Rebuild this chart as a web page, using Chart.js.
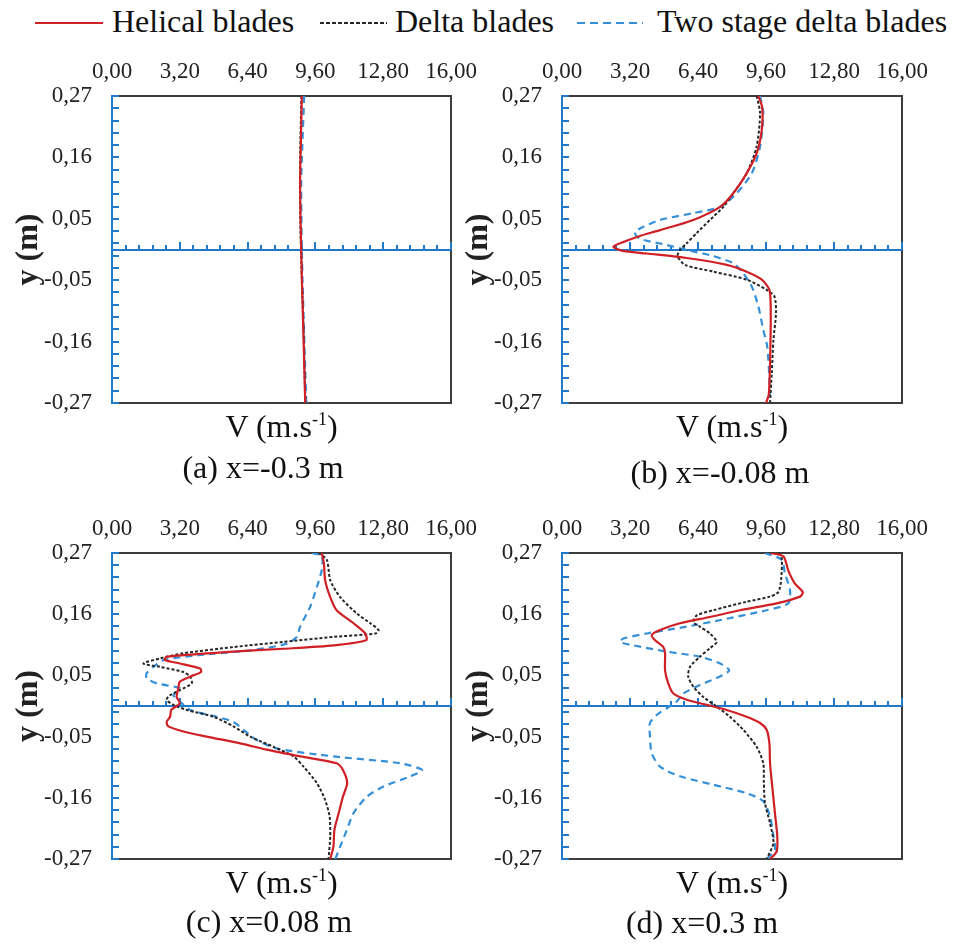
<!DOCTYPE html>
<html>
<head>
<meta charset="utf-8">
<script src="https://cdn.jsdelivr.net/npm/chart.js@4.4.1/dist/chart.umd.min.js"></script>
<style>
  body { margin: 0; width: 955px; height: 949px; background: #fff; position: relative; overflow: hidden;
         font-family: 'Liberation Serif', serif; color: #111; }
  .panel { position: absolute; }
  .txt { position: absolute; white-space: nowrap; font-size: 32px; line-height: 32px; text-align: center; }
  .sup { font-size: 18px; position: relative; top: -12px; }
  .key { position: absolute; height: 2px; }
</style>
</head>
<body>
<div id="legend"></div>
<div id="figure"></div>
<script>
// series and axis labels
const seriesNames = ['Helical blades', 'Delta blades', 'Two stage delta blades'];
const vTicks = [0, 3.2, 6.4, 9.6, 12.8, 16];
const yTicks = [0.27, 0.162, 0.054, -0.054, -0.162, -0.27];
const captions = ['(a) x=-0.3 m', '(b) x=-0.08 m', '(c) x=0.08 m', '(d) x=0.3 m'];

// (a) x = -0.3 m, all three profiles sampled at the same heights
const yA = [0.27, 0.2, 0.122, 0.05, 0, -0.05, -0.141, -0.2, -0.27];
const helicalA = [8.96, 8.92, 8.88, 8.9, 8.93, 8.96, 9.03, 9.07, 9.12];
const deltaA = [8.94, 8.9, 8.87, 8.89, 8.92, 8.96, 9.04, 9.08, 9.13];
const twoStageA = [9.07, 9.0, 8.93, 8.94, 8.96, 8.99, 9.06, 9.11, 9.17];

// (b) x = -0.08 m
const helicalB_y = [0.27, 0.25, 0.21, 0.169, 0.134, 0.099, 0.075, 0.052, 0.034, 0.023, 0.014, 0.005, -0.002, -0.007, -0.015, -0.027, -0.039, -0.053, -0.071, -0.1, -0.141, -0.2, -0.255, -0.27];
const helicalB_v = [9.24, 9.42, 9.4, 9.16, 8.69, 8.06, 7.44, 6.18, 4.61, 3.6, 2.95, 2.42, 2.8, 3.98, 5.87, 7.75, 8.69, 9.4, 9.76, 9.82, 9.82, 9.79, 9.73, 9.6];
const deltaB_y = [0.27, 0.24, 0.181, 0.134, 0.099, 0.075, 0.052, 0.029, 0.011, -0.001, -0.012, -0.027, -0.039, -0.053, -0.071, -0.083, -0.112, -0.159, -0.218, -0.27];
const deltaB_v = [9.16, 9.32, 9.16, 8.69, 8.06, 7.6, 6.96, 6.34, 5.87, 5.55, 5.44, 5.79, 7.12, 8.69, 9.63, 10.0, 10.07, 9.95, 9.87, 9.79];
const twoStageB_y = [0.27, 0.24, 0.181, 0.134, 0.099, 0.075, 0.064, 0.052, 0.04, 0.031, 0.023, 0.017, 0.008, -0.001, -0.01, -0.024, -0.042, -0.065, -0.1, -0.141, -0.171, -0.229, -0.27];
const twoStageB_v = [9.32, 9.47, 9.32, 8.93, 8.22, 7.44, 6.18, 4.61, 3.83, 3.44, 3.51, 3.83, 4.93, 5.87, 6.96, 8.06, 8.53, 8.93, 9.24, 9.47, 9.66, 9.76, 9.79];

// (c) x = 0.08 m
const helicalC_y = [0.27, 0.252, 0.222, 0.192, 0.169, 0.146, 0.128, 0.116, 0.107, 0.101, 0.096, 0.087, 0.081, 0.075, 0.066, 0.06, 0.052, 0.043, 0.031, 0.016, 0.005, -0.007, -0.019, -0.028, -0.036, -0.045, -0.054, -0.066, -0.077, -0.089, -0.101, -0.113, -0.136, -0.16, -0.189, -0.218, -0.248, -0.27];
const helicalC_v = [9.9, 10.0, 10.06, 10.3, 10.6, 11.4, 11.95, 12.0, 10.46, 8.1, 5.7, 2.58, 2.5, 3.2, 4.16, 4.2, 3.7, 3.2, 3.13, 3.05, 3.2, 2.8, 2.74, 2.58, 2.66, 3.37, 4.47, 6.05, 7.3, 8.9, 10.6, 10.9, 11.1, 10.9, 10.7, 10.5, 10.45, 10.3];
const deltaC_y = [0.27, 0.258, 0.222, 0.192, 0.163, 0.146, 0.134, 0.128, 0.122, 0.113, 0.104, 0.093, 0.084, 0.075, 0.069, 0.06, 0.052, 0.04, 0.028, 0.019, 0.011, 0.002, -0.007, -0.019, -0.036, -0.054, -0.072, -0.089, -0.107, -0.136, -0.166, -0.195, -0.23, -0.27];
const deltaC_v = [9.75, 10.14, 10.3, 10.77, 11.56, 12.19, 12.58, 12.43, 10.46, 8.09, 5.73, 3.37, 2.27, 1.48, 2.27, 3.37, 3.69, 3.76, 3.21, 2.74, 2.58, 2.9, 3.53, 4.79, 5.73, 6.52, 7.62, 8.57, 9.04, 9.67, 10.06, 10.27, 10.3, 10.22];
const twoStageC_y = [0.27, 0.265, 0.24, 0.21, 0.175, 0.14, 0.122, 0.11, 0.099, 0.09, 0.081, 0.069, 0.058, 0.049, 0.04, 0.031, 0.019, 0.008, -0.007, -0.019, -0.028, -0.042, -0.06, -0.075, -0.089, -0.101, -0.113, -0.124, -0.142, -0.16, -0.189, -0.218, -0.248, -0.27];
const twoStageC_v = [9.43, 9.9, 9.9, 9.67, 9.35, 8.88, 8.72, 8.25, 6.68, 4.16, 2.43, 1.95, 1.64, 1.64, 2.11, 3.21, 2.9, 3.2, 3.69, 4.94, 5.73, 6.2, 6.83, 7.78, 10.46, 13.6, 14.63, 14.08, 12.82, 12.03, 11.4, 11.09, 10.77, 10.54];

// (d) x = 0.3 m
const helicalD_y = [0.27, 0.264, 0.239, 0.216, 0.201, 0.193, 0.181, 0.169, 0.157, 0.146, 0.134, 0.125, 0.116, 0.104, 0.093, 0.063, 0.04, 0.022, 0.011, 0.002, -0.007, -0.019, -0.03, -0.042, -0.066, -0.101, -0.148, -0.189, -0.23, -0.257, -0.27];
const helicalD_v = [9.79, 10.42, 10.65, 10.96, 11.33, 11.2, 10.1, 8.38, 6.96, 5.55, 4.61, 4.22, 4.38, 4.77, 4.85, 4.85, 5.0, 5.24, 5.87, 6.81, 7.75, 8.69, 9.32, 9.63, 9.76, 9.79, 9.91, 10.02, 10.13, 10.1, 9.79];
const deltaD_y = [0.27, 0.261, 0.222, 0.201, 0.193, 0.184, 0.169, 0.16, 0.148, 0.14, 0.128, 0.113, 0.102, 0.087, 0.069, 0.052, 0.034, 0.016, -0.001, -0.019, -0.042, -0.072, -0.101, -0.136, -0.171, -0.207, -0.242, -0.27];
const deltaD_v = [10.18, 10.34, 10.31, 10.18, 9.79, 8.69, 7.12, 6.34, 6.18, 6.49, 6.96, 7.28, 6.96, 6.49, 6.02, 5.94, 6.18, 6.65, 7.28, 7.9, 8.53, 9.16, 9.47, 9.5, 9.55, 9.79, 9.95, 9.63];
const twoStageD_y = [0.27, 0.258, 0.234, 0.204, 0.181, 0.169, 0.154, 0.14, 0.128, 0.119, 0.113, 0.107, 0.096, 0.087, 0.075, 0.063, 0.052, 0.037, 0.022, 0.008, -0.004, -0.016, -0.03, -0.054, -0.083, -0.107, -0.124, -0.139, -0.154, -0.168, -0.195, -0.23, -0.254, -0.27];
const twoStageD_v = [9.55, 10.34, 10.49, 10.73, 10.65, 9.63, 7.75, 5.87, 3.98, 2.89, 2.73, 3.36, 4.93, 6.49, 7.44, 7.87, 7.44, 6.49, 5.71, 5.4, 4.93, 4.45, 4.14, 4.14, 4.22, 4.61, 5.55, 7.12, 8.69, 9.47, 9.79, 9.95, 10.02, 9.63];

const panelSeries = [
    [[helicalA, yA], [deltaA, yA], [twoStageA, yA]],
    [[helicalB_v, helicalB_y], [deltaB_v, deltaB_y], [twoStageB_v, twoStageB_y]],
    [[helicalC_v, helicalC_y], [deltaC_v, deltaC_y], [twoStageC_v, twoStageC_y]],
    [[helicalD_v, helicalD_y], [deltaD_v, deltaD_y], [twoStageD_v, twoStageD_y]]
];

// styles and placement
const fontFamily = "'Liberation Serif'";
const textColor = '#222';
const axisBlue = '#2179c9';
const frameColor = '#3c3c3c';
const seriesStyles = [
    { color: '#cf2026', dash: [], width: 2.2 },
    { color: '#262626', dash: [3, 2], width: 2 },
    { color: '#3590d8', dash: [7, 5], width: 2.2 }
];
// chart area ends up at canvas width - 38 (right) and canvas height - 34 (bottom)
const panels = [
    { left: 0,   top: 40,  width: 489, height: 397, titleTop: 410, captionX: 263, captionTop: 451 },
    { left: 450, top: 40,  width: 490, height: 397, titleTop: 410, captionX: 720, captionTop: 456 },
    { left: 0,   top: 497, width: 489, height: 396, titleTop: 866, captionX: 269, captionTop: 905 },
    { left: 450, top: 497, width: 490, height: 396, titleTop: 866, captionX: 702, captionTop: 906 }
];
const yAxisWidth = 112;
const xAxisHeight = 56;
const padRight = 38;
const padBottom = 34;

function fmt(value) {
    return Number(value).toFixed(2).replace('.', ',');
}

// Excel-like axes: blue value axis on the left, blue category axis crossing at y = 0
const axisDecor = {
    id: 'axisDecor',
    beforeDatasetsDraw(chart) {
        const { ctx, chartArea: area, scales: { x, y } } = chart;
        const left = Math.round(area.left), right = Math.round(area.right);
        const top = Math.round(area.top), bottom = Math.round(area.bottom);
        ctx.save();
        ctx.lineWidth = 2;
        ctx.strokeStyle = frameColor;
        ctx.strokeRect(left, top, right - left, bottom - top);

        ctx.strokeStyle = axisBlue;
        ctx.beginPath();
        ctx.moveTo(left, top - 1);
        ctx.lineTo(left, bottom + 1);
        const yStep = (yTicks[0] - yTicks[1]) / 5;
        for (let k = 0; k <= 25; k++) {
            const py = Math.round(y.getPixelForValue(yTicks[0] - k * yStep));
            ctx.moveTo(left, py);
            ctx.lineTo(left + 7, py);
        }
        const y0 = Math.round(y.getPixelForValue(0));
        ctx.moveTo(left, y0);
        ctx.lineTo(right, y0);
        const xStep = (vTicks[1] - vTicks[0]) / 5;
        for (let k = 1; k <= 25; k++) {
            const px = Math.round(x.getPixelForValue(k * xStep));
            const len = k % 5 === 0 ? 8 : 5;
            ctx.moveTo(px, y0);
            ctx.lineTo(px, y0 - len);
        }
        ctx.stroke();
        ctx.restore();
    }
};

// legend across the top
const legendEl = document.getElementById('legend');
const legendKeys = [
    { lineLeft: 35, lineWidth: 68, textLeft: 112 },
    { lineLeft: 320, lineWidth: 67, textLeft: 395 },
    { lineLeft: 577, lineWidth: 66, textLeft: 657 }
];
legendKeys.forEach((k, i) => {
    const st = seriesStyles[i];
    const line = document.createElement('div');
    line.className = 'key';
    line.style.left = k.lineLeft + 'px';
    line.style.top = '22px';
    line.style.width = k.lineWidth + 'px';
    if (st.dash.length) {
        const on = st.dash[0] + 1, off = st.dash[0] + 1 + st.dash[1];
        line.style.background = `repeating-linear-gradient(to right, ${st.color} 0 ${on}px, transparent ${on}px ${off}px)`;
    } else {
        line.style.background = st.color;
    }
    legendEl.appendChild(line);
    const label = document.createElement('div');
    label.className = 'txt';
    label.style.left = k.textLeft + 'px';
    label.style.top = '5px';
    label.style.textAlign = 'left';
    label.textContent = seriesNames[i];
    legendEl.appendChild(label);
});

const figure = document.getElementById('figure');
panels.forEach((p, idx) => {
    const wrap = document.createElement('div');
    wrap.className = 'panel';
    wrap.style.left = p.left + 'px';
    wrap.style.top = p.top + 'px';
    const canvas = document.createElement('canvas');
    canvas.width = p.width;
    canvas.height = p.height;
    canvas.style.width = p.width + 'px';
    canvas.style.height = p.height + 'px';
    wrap.appendChild(canvas);
    figure.appendChild(wrap);

    const title = document.createElement('div');
    title.className = 'txt';
    title.style.left = (p.left + yAxisWidth) + 'px';
    title.style.width = (p.width - yAxisWidth - padRight) + 'px';
    title.style.top = p.titleTop + 'px';
    title.innerHTML = 'V (m.s<span class="sup">-1</span>)';
    figure.appendChild(title);

    const cap = document.createElement('div');
    cap.className = 'txt';
    cap.style.left = (p.captionX - 150) + 'px';
    cap.style.width = '300px';
    cap.style.top = p.captionTop + 'px';
    cap.textContent = captions[idx];
    figure.appendChild(cap);

    const datasets = panelSeries[idx].map(([vs, ys], i) => ({
        label: seriesNames[i],
        data: vs.map((v, j) => ({ x: v, y: ys[j] })),
        showLine: true,
        borderColor: seriesStyles[i].color,
        borderWidth: seriesStyles[i].width,
        borderDash: seriesStyles[i].dash,
        pointRadius: 0,
        tension: 0.25,
        order: i
    }));

    const tickFont = { family: fontFamily, size: 23 };
    new Chart(canvas, {
        type: 'scatter',
        data: { datasets: datasets },
        options: {
            responsive: false,
            animation: false,
            devicePixelRatio: 1,
            layout: { padding: { left: 0, top: 0, right: padRight, bottom: padBottom } },
            plugins: { legend: { display: false }, tooltip: { enabled: false } },
            scales: {
                x: {
                    type: 'linear',
                    position: 'top',
                    min: vTicks[0],
                    max: vTicks[vTicks.length - 1],
                    afterBuildTicks: (s) => { s.ticks = vTicks.map(v => ({ value: v })); },
                    afterFit: (s) => { s.height = xAxisHeight; },
                    ticks: { callback: fmt, padding: 10, font: tickFont, color: textColor, autoSkip: false, maxRotation: 0 },
                    grid: { display: false, drawTicks: false },
                    border: { display: false }
                },
                y: {
                    type: 'linear',
                    min: yTicks[yTicks.length - 1],
                    max: yTicks[0],
                    afterBuildTicks: (s) => { s.ticks = yTicks.slice().reverse().map(v => ({ value: v })); },
                    afterFit: (s) => { s.width = yAxisWidth; },
                    ticks: { callback: fmt, padding: 20, font: tickFont, color: textColor, autoSkip: false },
                    grid: { display: false, drawTicks: false },
                    border: { display: false },
                    title: {
                        display: true,
                        text: 'y (m)',
                        font: { family: fontFamily, size: 32, weight: 'bold' },
                        color: textColor,
                        padding: { top: 10, bottom: 0 }
                    }
                }
            }
        },
        plugins: [axisDecor]
    });
});
</script>
</body>
</html>
